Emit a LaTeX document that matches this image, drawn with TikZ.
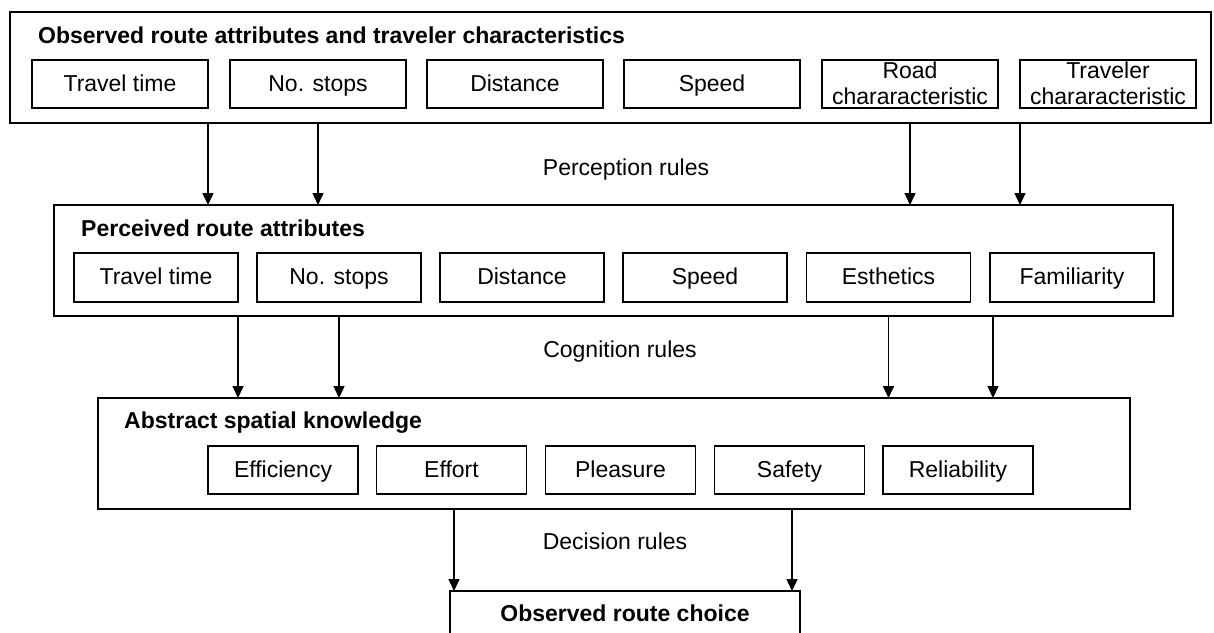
\documentclass[tikz,border=0pt]{standalone}
\usepackage{fontspec}
\setmainfont{Liberation Sans}
\usetikzlibrary{arrows.meta}
\begin{document}
\begin{tikzpicture}[x=1pt,y=-1pt,
  txt/.style={font=\fontsize{23}{26}\selectfont},
  frame/.style={draw, line width=1.5pt, inner sep=0pt, outer sep=0pt},
  item/.style={frame, txt, align=center, minimum height=48pt, text height=19pt, text depth=5pt},
  twoline/.style={frame, txt, align=center, minimum height=48pt, text depth=2pt},
  head/.style={anchor=base west, inner sep=0pt, font=\fontsize{23}{26}\selectfont\bfseries},
  rulelabel/.style={txt, anchor=base, inner sep=0pt},
  arr/.style={line width=1.5pt, -{Triangle[length=12pt,width=11pt]}}]
\useasboundingbox (0,0) rectangle (1214,632);

% level 1: observed attributes
\node[frame, minimum width=1201pt, minimum height=111pt] (obs) at (610.5,67.5) {};
\node[head] (obsT) at (38,43) {Observed route attributes and traveler characteristics};
\foreach \n/\x/\t in {1/120/Travel time, 2/318/No. stops, 3/515/Distance, 4/712/Speed}
  \node[item, minimum width=176pt] (o\n) at (\x,84) {\t};
\node[twoline, minimum width=176pt] (o5) at (910,84) {Road\\chararacteristic};
\node[twoline, minimum width=176pt] (o6) at (1108,84) {Traveler\\chararacteristic};

% level 2: perceived attributes
\node[frame, minimum width=1119pt, minimum height=111pt] (perc) at (613.5,260.5) {};
\node[head] (percT) at (81,236) {Perceived route attributes};
\foreach \n/\x/\t in {1/156/Travel time, 2/339/No. stops, 3/522/Distance, 4/705/Speed,
    5/888.5/Esthetics, 6/1072/Familiarity}
  \node[item, minimum width=164pt, minimum height=49pt] (p\n) at (\x,277.5) {\t};

% level 3: abstract knowledge
\node[frame, minimum width=1032pt, minimum height=111pt] (abs) at (614,453.5) {};
\node[head] (absT) at (124,428) {Abstract spatial knowledge};
\foreach \n/\x/\t in {1/283/Efficiency, 2/451.5/Effort, 3/620.5/Pleasure, 4/789.5/Safety,
    5/958/Reliability}
  \node[item, minimum width=150pt] (a\n) at (\x,470) {\t};

% level 4: choice
\node[frame, minimum width=350pt, minimum height=46pt, text height=19pt, text depth=5pt,
      font=\fontsize{23}{26}\selectfont\bfseries] (choice) at (625,614) {Observed route choice};

% rule labels
\node[rulelabel] (r1) at (626,175) {Perception rules};
\node[rulelabel] (r2) at (620,357) {Cognition rules};
\node[rulelabel] (r3) at (615,549) {Decision rules};

% connectors
\draw[arr] (o1.east |- obs.south) -- (o1.east |- perc.north);
\draw[arr] (o2 |- obs.south) -- (o2 |- perc.north);
\draw[arr] (o5 |- obs.south) -- (o5 |- perc.north);
\draw[arr] (o6.west |- obs.south) -- (o6.west |- perc.north);

\draw[arr] (p1.east |- perc.south) -- (p1.east |- abs.north);
\draw[arr] (p2 |- perc.south) -- (p2 |- abs.north);
\draw[arr] (p5 |- perc.south) -- (p5 |- abs.north);
\draw[arr] ([xshift=3pt]p6.west |- perc.south) -- ([xshift=3pt]p6.west |- abs.north);

\draw[arr] ([xshift=2.5pt]a2.center |- abs.south) -- ([xshift=2.5pt]a2.center |- choice.north);
\draw[arr] ([xshift=2.5pt]a4.center |- abs.south) -- ([xshift=2.5pt]a4.center |- choice.north);
\end{tikzpicture}
\end{document}
